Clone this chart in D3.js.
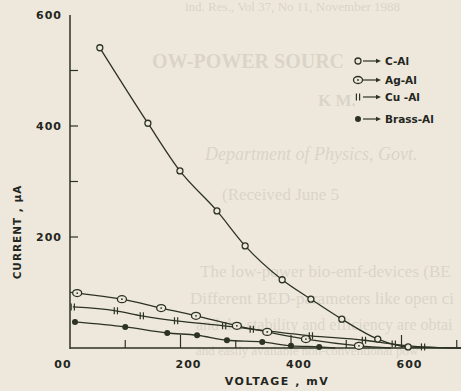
<!DOCTYPE html>
<html>
<head>
<meta charset="utf-8">
<script src="https://cdn.jsdelivr.net/npm/d3@7"></script>
<style>
  body { margin: 0; background: #eee8dc; }
  svg { display: block; }
</style>
</head>
<body>
<div id="chart"></div>
<script>
// current vs voltage for the four electrode pairs
var seriesNames = ['C-Al', 'Ag-Al', 'Cu -Al', 'Brass-Al'];

var cAlVoltage = [54, 141, 199, 266, 317, 384, 436, 492, 557, 612];
var cAlCurrent = [541, 405, 319, 247, 184, 123, 88, 52, 16, 2];

var agAlVoltage = [13, 94, 165, 228, 302, 357, 427, 523];
var agAlCurrent = [99, 88, 72, 58, 40, 29, 16, 4];

var cuAlVoltage = [5, 83, 130, 192, 279, 329, 436, 532, 586, 639];
var cuAlCurrent = [74, 67, 58, 49, 40, 34, 22, 14, 7, 2];

var brassAlVoltage = [9, 100, 176, 230, 284, 348, 400, 451];
var brassAlCurrent = [47, 38, 27, 23, 14, 11, 4, 2];

// voltage at which each trace has run down onto the axis
var traceEnd = [715, 580, 710, 480];

var xTicks = [100, 200, 300, 400, 500, 600, 700];
var xLabels = ['00', '200', '400', '600'];
var xLabelValues = [0, 200, 400, 600];
var yTicks = [100, 200, 300, 400, 500];
var yLabels = ['200', '400', '600'];
var yLabelValues = [200, 400, 600];

var W = 461, H = 391;
var ink = '#2c3224';
var paper = '#eee8dc';
var ghost = '#dad4c8';

var svg = d3.select('#chart').append('svg')
    .attr('width', W)
    .attr('height', H);

svg.append('rect').attr('width', W).attr('height', H).attr('fill', paper);

// trim a text until it ends before `limit`
function fitText(t, limit) {
    var node = t.node();
    var s = t.text();
    while (s.length > 1 && +t.attr('x') + node.getComputedTextLength() > limit) {
        s = s.slice(0, -1);
        t.text(s);
    }
    return t;
}

// show-through of the printed page behind the figure
var bleed = svg.append('g').attr('fill', ghost).style('font-family', '"Liberation Serif", "DejaVu Serif", serif');
function bleedLine(str, px, py, size, limit, weight, style) {
    var t = bleed.append('text').attr('x', px).attr('y', py)
        .style('font-size', size + 'px')
        .style('font-weight', weight || 'normal')
        .style('font-style', style || 'normal')
        .text(str);
    fitText(t, limit);
    return t;
}
bleedLine('ind. Res., Vol 37, No 11, November 1988', 185, 11, 13, 458);
bleedLine('OW-POWER SOURCES FOR ELEC', 152, 68, 20, 350, 'bold');
bleedLine('K M.', 318, 106, 17, 360, 'bold');
bleedLine('Department of Physics, Govt.', 205, 160, 18, 458, 'normal', 'italic');
bleedLine('(Received June 5', 222, 200, 17, 458);
bleedLine('The low-power bio-emf-devices (BE', 200, 277, 17, 459);
bleedLine('Different BED-parameters like open circu', 190, 304, 17, 459);
bleedLine('and the stability and efficiency are obtained.', 196, 330, 16, 459);
bleedLine('and easily available non-conventional pow', 196, 355, 13, 459);

var x = d3.scaleLinear().domain([0, 700]).range([70, 456.75]);
var y = d3.scaleLinear().domain([0, 600]).range([348, 15]);

var g = svg.append('g')
    .style('font-family', '"DejaVu Sans", sans-serif')
    .style('font-weight', 'bold')
    .attr('fill', '#24261e');

// axes
g.append('line')
    .attr('x1', x(0)).attr('x2', x(0))
    .attr('y1', y(600)).attr('y2', y(0) + 1)
    .attr('stroke', ink).attr('stroke-width', 1.5);
g.append('line')
    .attr('x1', x(0)).attr('x2', W)
    .attr('y1', y(0)).attr('y2', y(0))
    .attr('stroke', ink).attr('stroke-width', 1.5);

g.selectAll('.xtick')
    .data(xTicks)
    .enter().append('line')
    .attr('class', 'xtick')
    .attr('x1', function(d) { return x(d); })
    .attr('x2', function(d) { return x(d); })
    .attr('y1', y(0))
    .attr('y2', function(d) { return y(0) - (d % 200 === 0 ? 13 : 8); })
    .attr('stroke', ink).attr('stroke-width', 1.2);

g.selectAll('.ytick')
    .data(yTicks)
    .enter().append('line')
    .attr('class', 'ytick')
    .attr('x1', x(0))
    .attr('x2', x(0) + 8)
    .attr('y1', function(d) { return y(d); })
    .attr('y2', function(d) { return y(d); })
    .attr('stroke', ink).attr('stroke-width', 1.2);

g.selectAll('.xlabel')
    .data(xLabels)
    .enter().append('text')
    .attr('class', 'xlabel')
    .attr('x', function(d, i) { return x(xLabelValues[i]) + (i === 0 ? -7 : 8); })
    .attr('y', 368)
    .attr('text-anchor', 'middle')
    .style('font-size', '11px')
    .style('letter-spacing', '1px')
    .text(function(d) { return d; });

g.selectAll('.ylabel')
    .data(yLabels)
    .enter().append('text')
    .attr('class', 'ylabel')
    .attr('x', 62)
    .attr('y', function(d, i) { return y(yLabelValues[i]) + 4; })
    .attr('text-anchor', 'end')
    .style('font-size', '11px')
    .style('letter-spacing', '1px')
    .text(function(d) { return d; });

g.append('text')
    .attr('x', 277).attr('y', 385)
    .attr('text-anchor', 'middle')
    .style('font-size', '11px')
    .style('letter-spacing', '1.5px')
    .text('VOLTAGE , mV');

g.append('text')
    .attr('transform', 'translate(21,' + 232 + ') rotate(-90)')
    .attr('text-anchor', 'middle')
    .style('font-size', '10.5px')
    .style('letter-spacing', '1px')
    .text('CURRENT , \u03bcA');

// traces
var voltages = [cAlVoltage, agAlVoltage, cuAlVoltage, brassAlVoltage];
var currents = [cAlCurrent, agAlCurrent, cuAlCurrent, brassAlCurrent];

var line = d3.line()
    .x(function(d) { return x(d[0]); })
    .y(function(d) { return y(d[1]); })
    .curve(d3.curveMonotoneX);

var traces = voltages.map(function(v, i) {
    return v.map(function(val, j) { return [val, currents[i][j]]; });
});

traces.forEach(function(pts, i) {
    g.append('path')
        .datum(pts.concat([[traceEnd[i], 0]]))
        .attr('d', line)
        .attr('fill', 'none')
        .attr('stroke', ink)
        .attr('stroke-width', 1.3);
});

function drawMarker(sel, kind) {
    if (kind === 0) {
        sel.append('circle').attr('r', 3)
            .attr('fill', paper).attr('stroke', ink).attr('stroke-width', 1.3);
    } else if (kind === 1) {
        sel.append('ellipse').attr('rx', 4.5).attr('ry', 3.5)
            .attr('fill', paper).attr('stroke', ink).attr('stroke-width', 1.3);
        sel.append('circle').attr('r', 0.9).attr('fill', ink);
    } else if (kind === 2) {
        sel.append('line').attr('x1', -1.6).attr('x2', -1.6).attr('y1', -3.5).attr('y2', 3.5)
            .attr('stroke', ink).attr('stroke-width', 1.2);
        sel.append('line').attr('x1', 1.6).attr('x2', 1.6).attr('y1', -3.5).attr('y2', 3.5)
            .attr('stroke', ink).attr('stroke-width', 1.2);
    } else {
        sel.append('circle').attr('r', 3).attr('fill', ink);
    }
}

traces.forEach(function(pts, i) {
    g.selectAll('.m' + i)
        .data(pts)
        .enter().append('g')
        .attr('class', 'm' + i)
        .attr('transform', function(d) { return 'translate(' + x(d[0]) + ',' + y(d[1]) + ')'; })
        .each(function() { drawMarker(d3.select(this), i); });
});

// legend
var legendY = [61, 80, 97, 119];
var legend = g.selectAll('.legend')
    .data(seriesNames)
    .enter().append('g')
    .attr('class', 'legend')
    .attr('transform', function(d, i) { return 'translate(358,' + legendY[i] + ')'; });

legend.each(function(d, i) { drawMarker(d3.select(this), i); });

legend.append('line')
    .attr('x1', 5).attr('x2', 20)
    .attr('y1', 0).attr('y2', 0)
    .attr('stroke', ink).attr('stroke-width', 1.2);
legend.append('path')
    .attr('d', 'M18,-2.2L23,0L18,2.2Z')
    .attr('fill', ink);

legend.append('text')
    .attr('x', 27)
    .attr('y', 4)
    .style('font-size', '10.5px')
    .text(function(d) { return d; });
</script>
</body>
</html>
